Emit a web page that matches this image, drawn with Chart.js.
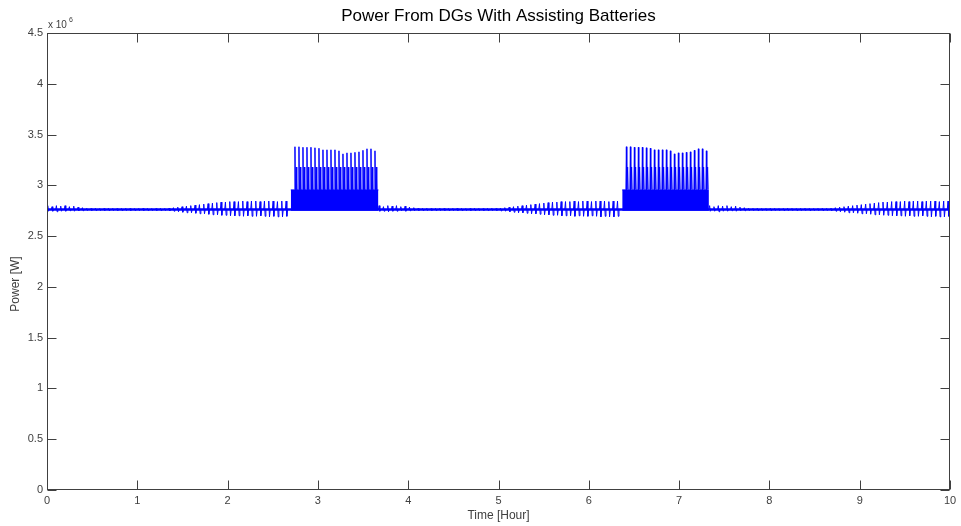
<!DOCTYPE html>
<html>
<head>
<meta charset="utf-8">
<style>
  html, body { margin: 0; padding: 0; background: #fff; }
</style>
<script src="https://cdn.jsdelivr.net/npm/chart.js@4.4.1/dist/chart.umd.min.js"></script>
</head>
<body>
<canvas id="chart" width="961" height="526"></canvas>
<script>
  // all power values are in units of 1e6 W (axis shows "x 10^6")
  var xTicks = [0, 1, 2, 3, 4, 5, 6, 7, 8, 9, 10]
  var yTicks = [0, 0.5, 1, 1.5, 2, 2.5, 3, 3.5, 4, 4.5]
  var baseLevel = 2.762

  // ripple between the battery bursts, one peak/trough per cycle
  var gapStarts = [0, 3.67, 7.33]
  var gapPeriod = 0.048
  var gapPeaks = [
    2.800, 2.790, 2.800, 2.795, 2.800, 2.790, 2.795, 2.785, 2.780,
    2.773, 2.772, 2.773, 2.771, 2.772, 2.773, 2.772, 2.771, 2.772, 2.773,
    2.772, 2.771, 2.772, 2.773, 2.772, 2.771, 2.772, 2.773, 2.772,
    2.775, 2.780, 2.785, 2.790, 2.795, 2.800, 2.805, 2.810, 2.815, 2.820,
    2.825, 2.830, 2.835, 2.835, 2.840, 2.840, 2.840, 2.845, 2.840, 2.845,
    2.845, 2.840, 2.845, 2.845, 2.845, 2.840, 2.845, 2.845
  ]
  var gapTroughs = [
    2.745, 2.745, 2.740, 2.745, 2.745, 2.750, 2.745, 2.750, 2.750,
    2.752, 2.752, 2.752, 2.752, 2.752, 2.752, 2.752, 2.752, 2.752, 2.752,
    2.752, 2.752, 2.752, 2.752, 2.752, 2.752, 2.752, 2.752, 2.752,
    2.748, 2.745, 2.740, 2.735, 2.730, 2.730, 2.725, 2.720, 2.720, 2.715,
    2.710, 2.710, 2.705, 2.705, 2.700, 2.700, 2.700, 2.695, 2.700, 2.695,
    2.695, 2.700, 2.695, 2.690, 2.695, 2.690, 2.690, 2.695
  ]

  // bursts where the batteries assist
  var burstStarts = [2.70, 6.37]
  var burstEnds = [3.67, 7.33]
  var burstTop = 2.955
  var burstBottom = 2.75
  var burstShoulder = 3.18
  var burstFirst = 0.046
  var burstPeriod = 0.0443
  var burstPeaks = [
    3.380, 3.380, 3.375, 3.375, 3.375, 3.370, 3.365, 3.350, 3.350, 3.350,
    3.350, 3.340, 3.310, 3.320, 3.320, 3.325, 3.330, 3.345, 3.360, 3.360, 3.340
  ]

  var blue = 'rgb(0, 0, 255)'
  var axisColor = '#404040'
  var fontFamily = '"Liberation Sans", Arial, Helvetica, sans-serif'

  var ripple = []
  gapStarts.forEach(function (s) {
    for (var i = 0; i < gapPeaks.length; i++) {
      var t = s + i * gapPeriod
      ripple.push({ x: t, y: baseLevel })
      ripple.push({ x: t + 0.008, y: gapPeaks[i] })
      ripple.push({ x: t + 0.016, y: gapTroughs[i] })
      ripple.push({ x: t + 0.024, y: baseLevel })
    }
  })

  var spikes = []
  burstStarts.forEach(function (s, k) {
    spikes.push({ x: s, y: burstTop })
    for (var j = 0; j < burstPeaks.length; j++) {
      var t = s + burstFirst + j * burstPeriod
      spikes.push({ x: t - 0.005, y: burstTop })
      spikes.push({ x: t, y: burstPeaks[j] })
      spikes.push({ x: t + 0.005, y: burstTop })
      spikes.push({ x: t + 0.014, y: burstShoulder })
      spikes.push({ x: t + 0.020, y: burstTop })
    }
    spikes.push({ x: burstEnds[k], y: burstTop })
    spikes.push({ x: burstEnds[k], y: null })
  })

  var datasets = [
    {
      data: [{ x: 0, y: baseLevel }, { x: 10, y: baseLevel }],
      borderColor: blue, borderWidth: 2.5
    },
    { data: ripple, borderColor: blue, borderWidth: 1 },
    { data: spikes, borderColor: blue, borderWidth: 1, spanGaps: false }
  ]
  burstStarts.forEach(function (s, k) {
    datasets.push({
      data: [{ x: s, y: burstTop }, { x: burstEnds[k], y: burstTop }],
      borderWidth: 0,
      backgroundColor: blue,
      fill: { value: burstBottom }
    })
  })

  // MATLAB style frame, inward ticks, title, y label and exponent label
  var matlabFrame = {
    id: 'matlabFrame',
    afterDraw: function (chart) {
      var ctx = chart.ctx
      var a = chart.chartArea
      var xs = chart.scales.x
      var ys = chart.scales.y
      var L = Math.round(a.left) + 0.5, R = Math.round(a.right) - 0.5
      var T = Math.round(a.top) + 0.5, B = Math.round(a.bottom) - 0.5
      ctx.save()
      ctx.strokeStyle = axisColor
      ctx.lineWidth = 1
      ctx.strokeRect(L, T, R - L, B - T)
      ctx.beginPath()
      xTicks.forEach(function (v) {
        var px = Math.round(xs.getPixelForValue(v)) + 0.5
        ctx.moveTo(px, B); ctx.lineTo(px, B - 9)
        ctx.moveTo(px, T); ctx.lineTo(px, T + 9)
      })
      yTicks.forEach(function (v) {
        var py = Math.round(ys.getPixelForValue(v)) + 0.5
        ctx.moveTo(L, py); ctx.lineTo(L + 9, py)
        ctx.moveTo(R, py); ctx.lineTo(R - 9, py)
      })
      ctx.stroke()

      ctx.fillStyle = '#000'
      ctx.textAlign = 'center'
      ctx.textBaseline = 'middle'
      ctx.font = '17px ' + fontFamily
      ctx.fillText('Power From DGs With Assisting Batteries', (a.left + a.right) / 2, 16)

      ctx.fillStyle = axisColor
      ctx.font = '12px ' + fontFamily
      ctx.save()
      ctx.translate(16, 284)
      ctx.rotate(-Math.PI / 2)
      ctx.fillText('Power [W]', 0, 0)
      ctx.restore()

      ctx.textAlign = 'left'
      ctx.textBaseline = 'alphabetic'
      ctx.font = '10px ' + fontFamily
      ctx.fillText('x 10', a.left + 1, 28)
      ctx.font = '7px ' + fontFamily
      ctx.fillText('6', a.left + 22, 22)
      ctx.restore()
    }
  }

  var ctx = document.getElementById('chart')
  Chart.defaults.font.family = fontFamily

  var chart = new Chart(ctx, {
    type: 'line',
    data: { datasets: datasets },
    options: {
      responsive: false,
      animation: false,
      elements: { point: { radius: 0 }, line: { tension: 0 } },
      layout: { padding: { top: 33, right: 11, left: 0, bottom: 0 } },
      plugins: { legend: { display: false }, tooltip: { enabled: false }, title: { display: false } },
      scales: {
        x: {
          type: 'linear', min: 0, max: 10,
          grid: { display: false, drawTicks: false, tickLength: 0 }, border: { display: false },
          ticks: { stepSize: 1, padding: 4, color: axisColor, font: { size: 11 }, maxRotation: 0 },
          title: { display: true, text: 'Time [Hour]', color: axisColor, font: { size: 12 }, padding: { top: 0, bottom: 3 } },
          afterFit: function (s) { s.height = 36 }
        },
        y: {
          type: 'linear', min: 0, max: 4.5,
          grid: { display: false, drawTicks: false, tickLength: 0 }, border: { display: false },
          ticks: {
            stepSize: 0.5, padding: 4, color: axisColor, font: { size: 11 },
            callback: function (v) { return String(v) }
          },
          afterFit: function (s) { s.width = 47 }
        }
      }
    },
    plugins: [matlabFrame]
  })
</script>
</body>
</html>
